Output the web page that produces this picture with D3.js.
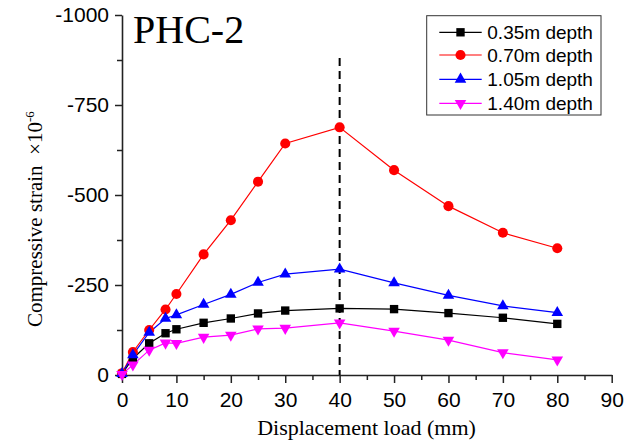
<!DOCTYPE html>
<html>
<head>
<meta charset="utf-8">
<script src="https://cdn.jsdelivr.net/npm/d3@7"></script>
<style>
  body { margin: 0; background: #fff; }
  svg { display: block; }
</style>
</head>
<body>
<div id="chart"></div>
<script>
// displacement load (mm)
const loads = [0, 2, 5, 8, 10, 15, 20, 25, 30, 40, 50, 60, 70, 80];

// compressive strain x10^-6 (negative = compression)
const depth035 = [-3, -46, -88, -116, -127, -145, -157, -171, -179, -185, -183, -172, -159, -142];
const depth070 = [-5, -64, -125, -182, -225, -335, -430, -537, -643, -688, -569, -469, -395, -352];
const depth105 = [-4, -56, -118, -157, -167, -196, -224, -257, -280, -294, -256, -221, -192, -173];
const depth140 = [-2, -28, -69, -89, -88, -105, -111, -128, -130, -145, -122, -97, -62, -42];

const seriesNames = ["0.35m depth", "0.70m depth", "1.05m depth", "1.40m depth"];
const seriesColors = ["#000000", "#ff0000", "#0000ff", "#ff00ff"];

const xTicks = [0, 10, 20, 30, 40, 50, 60, 70, 80, 90];
const yTicks = [0, -250, -500, -750, -1000];
const peakLoad = 40;

const svg = d3.select("#chart").append("svg")
  .attr("width", 628)
  .attr("height", 441);

const x = d3.scaleLinear().domain([0, 90]).range([122, 611.7]);
const y = d3.scaleLinear().domain([0, -1000]).range([375, 15]);

// minor ticks
const xMinor = d3.range(5, 90, 10);
const yMinor = d3.range(-125, -1000, -250);

svg.append("g")
  .attr("transform", "translate(0,375)")
  .call(d3.axisBottom(x).tickValues(xMinor).tickSize(5).tickFormat(""))
  .call(g => g.select(".domain").remove())
  .selectAll("line").attr("stroke", "#222").attr("stroke-width", 1.5);

svg.append("g")
  .attr("transform", "translate(122,0)")
  .call(d3.axisLeft(y).tickValues(yMinor).tickSize(5).tickFormat(""))
  .call(g => g.select(".domain").remove())
  .selectAll("line").attr("stroke", "#222").attr("stroke-width", 1.5);

const xAxis = svg.append("g")
  .attr("transform", "translate(0,375)")
  .call(d3.axisBottom(x).tickValues(xTicks).tickSize(8).tickSizeOuter(0).tickPadding(9)
    .tickFormat(d => String(d)));

const yAxis = svg.append("g")
  .attr("transform", "translate(122,0)")
  .call(d3.axisLeft(y).tickValues(yTicks).tickSize(7).tickSizeOuter(0).tickPadding(6)
    .tickFormat(d => String(d)));

[xAxis, yAxis].forEach(g => {
  g.select(".domain").attr("stroke", "#222").attr("stroke-width", 1.6);
  g.selectAll(".tick line").attr("stroke", "#222").attr("stroke-width", 1.5);
  g.selectAll("text")
    .attr("fill", "#000")
    .style("font-family", "Arial, 'Liberation Sans', sans-serif")
    .style("font-size", "21px");
});

// vertical dashed line at peak
svg.append("line")
  .attr("x1", x(peakLoad)).attr("x2", x(peakLoad))
  .attr("y1", 58).attr("y2", y(0))
  .attr("stroke", "#000")
  .attr("stroke-width", 2)
  .attr("stroke-dasharray", "8,5");

const allSeries = [depth035, depth070, depth105, depth140];
const symbols = [
  d3.symbol().type(d3.symbolSquare).size(70),
  d3.symbol().type(d3.symbolCircle).size(80),
  d3.symbol().type(d3.symbolTriangle).size(58),
  d3.symbol().type(d3.symbolTriangle).size(58)
];
const rotations = [0, 0, 0, 180];

const line = d3.line()
  .x((d, i) => x(loads[i]))
  .y(d => y(d));

allSeries.forEach((vals, k) => {
  svg.append("path")
    .datum(vals)
    .attr("fill", "none")
    .attr("stroke", seriesColors[k])
    .attr("stroke-width", 1.2)
    .attr("d", line);
});

allSeries.forEach((vals, k) => {
  svg.append("g").selectAll("path")
    .data(vals)
    .join("path")
    .attr("d", symbols[k])
    .attr("transform", (d, i) => "translate(" + x(loads[i]) + "," + y(d) + ") rotate(" + rotations[k] + ")")
    .attr("fill", seriesColors[k]);
});

// title
svg.append("text")
  .attr("x", 133)
  .attr("y", 43)
  .style("font-family", "'Times New Roman', 'Liberation Serif', serif")
  .style("font-size", "40px")
  .text("PHC-2");

// axis titles
svg.append("text")
  .attr("x", 366.5)
  .attr("y", 435)
  .attr("text-anchor", "middle")
  .style("font-family", "'Times New Roman', 'Liberation Serif', serif")
  .style("font-size", "22px")
  .text("Displacement load (mm)");

const yTitle = svg.append("text")
  .attr("transform", "translate(41.5,327) rotate(-90)")
  .style("font-family", "'Times New Roman', 'Liberation Serif', serif")
  .style("font-size", "21px");
yTitle.append("tspan").text("Compressive strain \u00a0\u00d710");
yTitle.append("tspan").attr("dy", -8).style("font-size", "13px").text("-6");

// legend
const legend = svg.append("g");
legend.append("rect")
  .attr("x", 426.7).attr("y", 15.7)
  .attr("width", 174.3).attr("height", 99.3)
  .attr("fill", "#fff")
  .attr("stroke", "#333")
  .attr("stroke-width", 1);

const legendY = [32.3, 55, 79.3, 103.3];
seriesNames.forEach((name, k) => {
  const g = legend.append("g").attr("transform", "translate(0," + legendY[k] + ")");
  g.append("line")
    .attr("x1", 439.3).attr("x2", 481.7)
    .attr("stroke", seriesColors[k]).attr("stroke-width", 1.2);
  g.append("path")
    .attr("d", symbols[k])
    .attr("transform", "translate(460.5,0) rotate(" + rotations[k] + ")")
    .attr("fill", seriesColors[k]);
  g.append("text")
    .attr("x", 487.3)
    .attr("dy", "0.35em")
    .style("font-family", "Arial, 'Liberation Sans', sans-serif")
    .style("font-size", "19px")
    .text(name);
});
</script>
</body>
</html>
